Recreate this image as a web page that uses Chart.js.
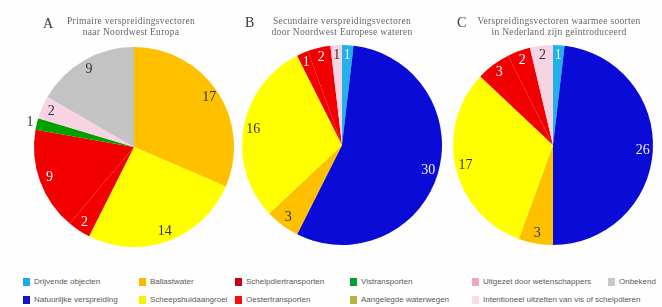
<!DOCTYPE html>
<html>
<head>
<meta charset="utf-8">
<script src="https://cdn.jsdelivr.net/npm/chart.js@4"></script>
<style>
  html, body { margin: 0; padding: 0; background: #ffffff; }
  #wrap { position: relative; width: 662px; height: 307px; overflow: hidden; background: #fefefe; }
  canvas.pie { position: absolute; }
  .letter { position: absolute; font-family: "Liberation Serif", serif; font-size: 14px; color: #3a3a3a; line-height: 14px; }
  .title { position: absolute; width: 220px; text-align: center; font-family: "Liberation Serif", serif; font-size: 9.5px; line-height: 11px; color: #666; letter-spacing: 0.3px; white-space: nowrap; }
  .leg { position: absolute; font-family: "Liberation Sans", sans-serif; font-size: 8px; color: #5a5a5a; white-space: nowrap; line-height: 10px; }
  .leg i { position: absolute; left: 0; top: 1px; width: 7px; height: 8px; }
  .leg span { position: absolute; left: 11px; top: 0; }
</style>
</head>
<body>
<div id="wrap"></div>
<script>
// ---- data ----
const categories = [
  "Drijvende objecten",
  "Natuurlijke verspreiding",
  "Ballastwater",
  "Scheepshuidaangroei",
  "Schelpdiertransporten",
  "Oestertransporten",
  "Vistransporten",
  "Aangelegde waterwegen",
  "Uitgezet door wetenschappers",
  "Intentioneel uitzetten van vis of schelpdieren",
  "Onbekend"
];
const valuesA = [0, 0, 17, 14, 2, 9, 1, 0, 2, 0, 9];
const valuesB = [1, 30, 3, 16, 1, 2, 0, 0, 1, 0, 0];
const valuesC = [1, 26, 3, 17, 3, 2, 0, 0, 2, 0, 0];
const panelLetters = ["A", "B", "C"];
const titleLinesA = ["Primaire verspreidingsvectoren", "naar Noordwest Europa"];
const titleLinesB = ["Secundaire verspreidingsvectoren", "door Noordwest Europese wateren"];
const titleLinesC = ["Verspreidingsvectoren waarmee soorten", "in Nederland zijn geïntroduceerd"];

// ---- styles ----
const sliceColors = ["#22b2ea", "#0b0bd8", "#ffc000", "#ffff00", "#f20000", "#f20000", "#00a000", "#a8b040", "#f7d3e3", "#fae0ea", "#c3c3c3"];
const legendColors = ["#20a8ec", "#1414c8", "#f5bb00", "#f2f200", "#c80018", "#ff0a0a", "#00a030", "#b4b440", "#f2a6c6", "#f9dbe8", "#c8c8c8"];
const labelColors = ["#e6f7ff", "#f2f2ff", "#333", "#333", "#fff", "#fff", "#333", "#333", "#333", "#333", "#333"];

const wrap = document.getElementById('wrap');

const labelPlugin = {
  id: 'sliceLabels',
  afterDatasetsDraw(chart, args, opts) {
    const ctx = chart.ctx;
    const meta = chart.getDatasetMeta(0);
    const data = chart.data.datasets[0].data;
    ctx.save();
    ctx.font = '14px "Liberation Serif", serif';
    ctx.textAlign = 'center';
    ctx.textBaseline = 'middle';
    meta.data.forEach((arc, i) => {
      if (!data[i]) return;
      const p = arc.getProps(['x', 'y', 'startAngle', 'endAngle', 'outerRadius'], true);
      const mid = (p.startAngle + p.endAngle) / 2;
      const f = (opts.radius && opts.radius[i]) || 0.9;
      const out = f > 1;
      ctx.fillStyle = out ? '#333' : labelColors[i];
      ctx.fillText(String(data[i]), p.x + Math.cos(mid) * p.outerRadius * f, p.y + Math.sin(mid) * p.outerRadius * f);
    });
    ctx.restore();
  }
};

function makePie(values, left, top, radiusOverrides) {
  const c = document.createElement('canvas');
  c.className = 'pie';
  c.width = 220; c.height = 220;
  c.style.left = left + 'px'; c.style.top = top + 'px';
  c.style.width = '220px'; c.style.height = '220px';
  wrap.appendChild(c);
  new Chart(c, {
    type: 'pie',
    data: {
      labels: categories,
      datasets: [{ data: values, backgroundColor: sliceColors, borderWidth: 0 }]
    },
    options: {
      responsive: false,
      animation: false,
      devicePixelRatio: 1,
      layout: { padding: 10 },
      plugins: {
        legend: { display: false },
        tooltip: { enabled: false },
        sliceLabels: { radius: radiusOverrides || {} }
      }
    },
    plugins: [labelPlugin]
  });
}

makePie(valuesA, 24, 37, { 6: 1.07 });
makePie(valuesB, 232, 35);
makePie(valuesC, 443, 35);

function addTitle(letter, lx, ly, lines, cx) {
  const l = document.createElement('div');
  l.className = 'letter'; l.textContent = letter;
  l.style.left = lx + 'px'; l.style.top = ly + 'px';
  wrap.appendChild(l);
  const t = document.createElement('div');
  t.className = 'title';
  t.style.left = (cx - 110) + 'px'; t.style.top = '16px';
  t.innerHTML = lines.map(s => s.replace(/&/g, '&amp;')).join('<br>');
  wrap.appendChild(t);
}
addTitle(panelLetters[0], 43, 17, titleLinesA, 131);
addTitle(panelLetters[1], 245, 16, titleLinesB, 342);
addTitle(panelLetters[2], 457, 16, titleLinesC, 559);

// ---- legend (built from categories) ----
const legCols = [23, 139, 235, 350, 472, 608];
const legRows = [277, 295];
const legSlots = [[0,0],[0,1],[1,0],[1,1],[2,0],[2,1],[3,0],[3,1],[4,0],[4,1],[5,0]];
categories.forEach((name, i) => {
  const d = document.createElement('div');
  d.className = 'leg';
  d.style.left = legCols[legSlots[i][0]] + 'px';
  d.style.top = legRows[legSlots[i][1]] + 'px';
  const m = document.createElement('i'); m.style.background = legendColors[i];
  const s = document.createElement('span'); s.textContent = name;
  d.appendChild(m); d.appendChild(s);
  wrap.appendChild(d);
});
</script>
</body>
</html>
